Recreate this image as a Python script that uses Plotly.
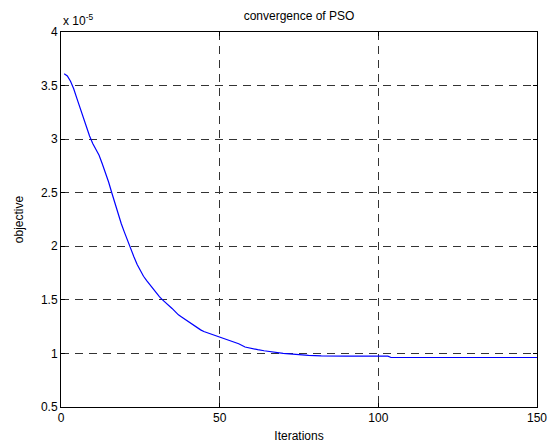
import plotly.graph_objects as go

# Iteration numbers and objective values (in units of 1e-5)
iterations = [1, 2, 3, 4, 5, 6, 7, 8, 9, 10, 11, 12, 13, 14, 15, 16, 17, 18, 19, 20,
              21, 22, 23, 24, 25, 26, 27, 28, 29, 30, 31, 32, 33, 34, 35, 36, 37, 38, 39, 40,
              41, 42, 43, 44, 45, 46, 47, 48, 49, 50, 52, 54, 56, 58, 60, 62, 64, 66, 68, 70,
              72, 75, 78, 82, 85, 90, 100, 103, 104, 150]
objective = [3.61, 3.59, 3.54, 3.47, 3.38, 3.29, 3.20, 3.11, 3.03, 2.96, 2.91, 2.85, 2.77, 2.69, 2.60,
             2.50, 2.40, 2.30, 2.21, 2.13, 2.05, 1.98, 1.90, 1.83, 1.77, 1.72, 1.68, 1.64, 1.60, 1.57,
             1.53, 1.50, 1.475, 1.45, 1.42, 1.39, 1.36, 1.34, 1.32, 1.295, 1.275, 1.255, 1.235, 1.22,
             1.205, 1.195, 1.185, 1.17, 1.16, 1.152, 1.135, 1.11, 1.09, 1.06, 1.045, 1.035, 1.025,
             1.015, 1.005, 1.0, 0.995, 0.987, 0.982, 0.977, 0.975, 0.975, 0.975, 0.975, 0.962, 0.962]

x_ticks = [0, 50, 100, 150]
y_ticks = [0.5, 1, 1.5, 2, 2.5, 3, 3.5, 4]
y_tick_labels = ["0.5", "1", "1.5", "2", "2.5", "3", "3.5", "4"]

font = dict(family="Liberation Sans, Arial, sans-serif", size=12, color="black")

fig = go.Figure()
fig.add_trace(go.Scatter(x=iterations, y=objective, mode="lines",
                         line=dict(color="#0000FF", width=1.2), showlegend=False,
                         hoverinfo="skip"))

axis_common = dict(showline=True, linecolor="black", linewidth=1, mirror="ticks",
                   ticks="inside", ticklen=4, tickcolor="black",
                   showgrid=True, gridcolor="#333333", gridwidth=1, griddash="8px,6px",
                   zeroline=False, tickfont=font, automargin=False)

fig.update_layout(
    width=555, height=447,
    margin=dict(l=61, r=18, t=32, b=40),
    paper_bgcolor="white", plot_bgcolor="white",
    font=font,
    title=dict(text="convergence of PSO", x=299 / 555, xanchor="center",
               y=1 - 16 / 447, yanchor="middle", font=font),
    xaxis=dict(range=[0, 150], tickvals=x_ticks, title=dict(text="Iterations", standoff=7, font=font),
               **axis_common),
    yaxis=dict(range=[0.5, 4], tickvals=y_ticks, ticktext=y_tick_labels,
               title=dict(text="objective", standoff=14, font=font), **axis_common),
    annotations=[dict(text="x 10<sup>-5</sup>", xref="paper", yref="paper", x=0, y=1,
                      xanchor="left", yanchor="bottom", yshift=2, showarrow=False, font=font)],
)

fig.write_html("out.html", config={"displayModeBar": False},
               post_script="document.body.style.margin='0px';")
